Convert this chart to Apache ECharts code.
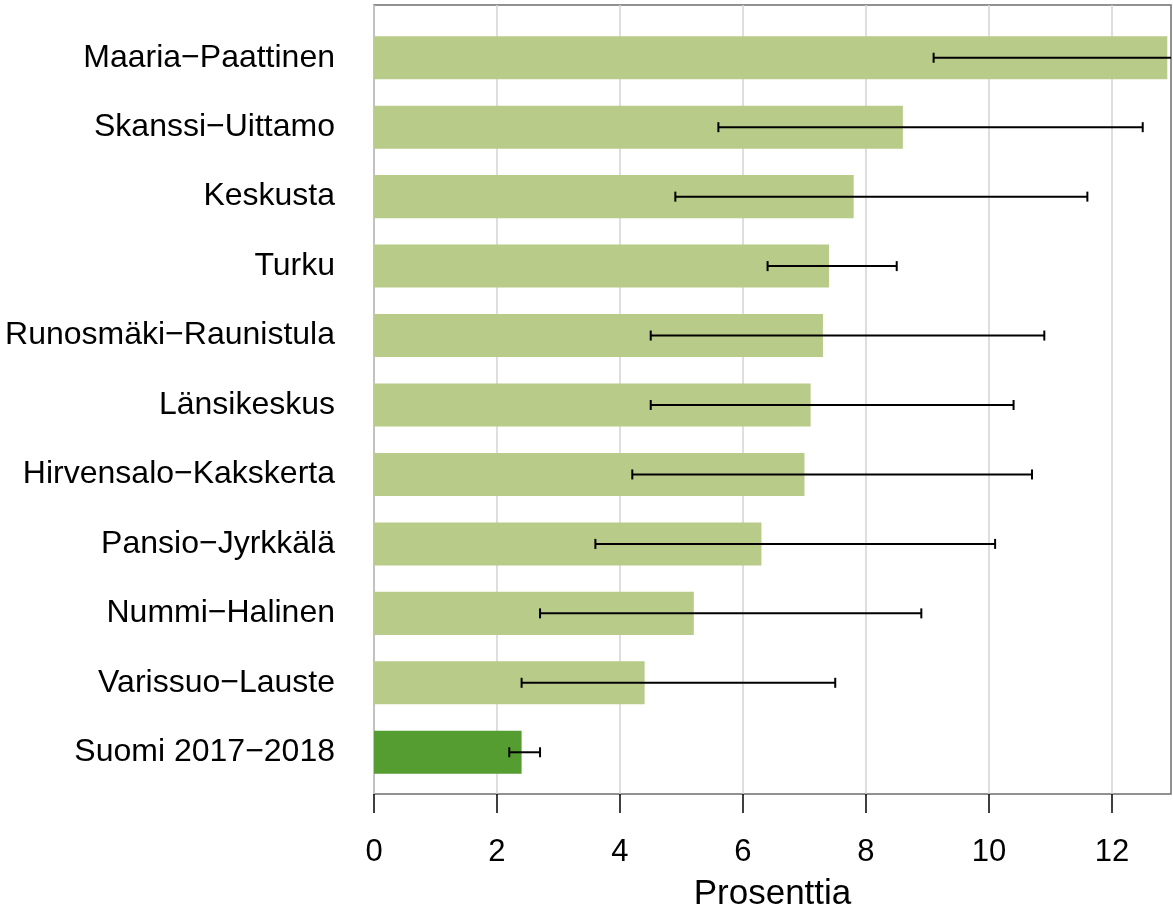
<!DOCTYPE html>
<html><head><meta charset="utf-8">
<script src="https://cdn.jsdelivr.net/npm/echarts@6/dist/echarts.min.js"></script>
<style>html,body{margin:0;padding:0;background:#fff}#c{width:1173px;height:917px}</style>
</head><body><div id="c"></div>
<script>
const categories = ['Maaria\u2212Paattinen','Skanssi\u2212Uittamo','Keskusta','Turku','Runosmäki\u2212Raunistula','Länsikeskus','Hirvensalo\u2212Kakskerta','Pansio\u2212Jyrkkälä','Nummi\u2212Halinen','Varissuo\u2212Lauste','Suomi 2017\u22122018'];
const values = [12.9, 8.6, 7.8, 7.4, 7.3, 7.1, 7.0, 6.3, 5.2, 4.4, 2.4];
const lower  = [9.1, 5.6, 4.9, 6.4, 4.5, 4.5, 4.2, 3.6, 2.7, 2.4, 2.2];
const upper  = [17.0, 12.5, 11.6, 8.5, 10.9, 10.4, 10.7, 10.1, 8.9, 7.5, 2.7];
const tickValues = [0, 2, 4, 6, 8, 10, 12];
const referenceCategory = 'Suomi 2017\u22122018';

const XMAX = 12.96;
const chart = echarts.init(document.getElementById('c'));
const font = 'Liberation Sans, Arial, sans-serif';
const option = {
  animation: false,
  grid: [
    {left: 374, right: 2, top: 5, bottom: 113, show: true, borderColor: '#6e6e6e', borderWidth: 1.5, backgroundColor: 'transparent'},
    {left: 374, right: 2, top: 23, bottom: 130}
  ],
  xAxis: [
    {gridIndex: 0, type: 'value', min: 0, max: XMAX, interval: 2,
     axisLine: {show: false},
     axisTick: {show: true, length: 19, lineStyle: {color: '#000', width: 1.5}, customValues: tickValues},
     axisLabel: {fontFamily: font, fontSize: 31, color: '#000', margin: 43, customValues: tickValues},
     splitLine: {show: true, lineStyle: {color: '#d3d3d3', width: 1.5}},
     name: 'Prosenttia', nameLocation: 'middle', nameGap: 83,
     nameTextStyle: {fontFamily: font, fontSize: 35, color: '#000'}},
    {gridIndex: 1, type: 'value', min: 0, max: XMAX, show: false}
  ],
  yAxis: [
    {gridIndex: 0, type: 'value', min: 0, max: 1, show: false},
    {gridIndex: 1, type: 'category', inverse: true, data: categories,
     axisLine: {show: false}, axisTick: {show: false}, splitLine: {show: false},
     axisLabel: {fontFamily: font, fontSize: 32, color: '#000', margin: 39, padding: [6, 0, 0, 0]}}
  ],
  series: [
    {type: 'bar', xAxisIndex: 1, yAxisIndex: 1, barCategoryGap: '38%',
     data: values.map((v, i) => ({value: v, itemStyle: {color: categories[i] === referenceCategory ? '#559d30' : '#b8cb88'}})),
     z: 2},
    {type: 'custom', xAxisIndex: 1, yAxisIndex: 1, z: 5, clip: true,
     data: categories.map((c, i) => [lower[i], upper[i], i]),
     renderItem: function (params, api) {
       const p1 = api.coord([api.value(0), api.value(2)]);
       const p2 = api.coord([api.value(1), api.value(2)]);
       const h = 5;
       const st = {stroke: '#000', lineWidth: 2};
       return {type: 'group', children: [
         {type: 'line', shape: {x1: p1[0], y1: p1[1], x2: p2[0], y2: p2[1]}, style: st},
         {type: 'line', shape: {x1: p1[0], y1: p1[1]-h, x2: p1[0], y2: p1[1]+h}, style: st},
         {type: 'line', shape: {x1: p2[0], y1: p2[1]-h, x2: p2[0], y2: p2[1]+h}, style: st}
       ]};
     }}
  ]
};
chart.setOption(option);
</script></body></html>
